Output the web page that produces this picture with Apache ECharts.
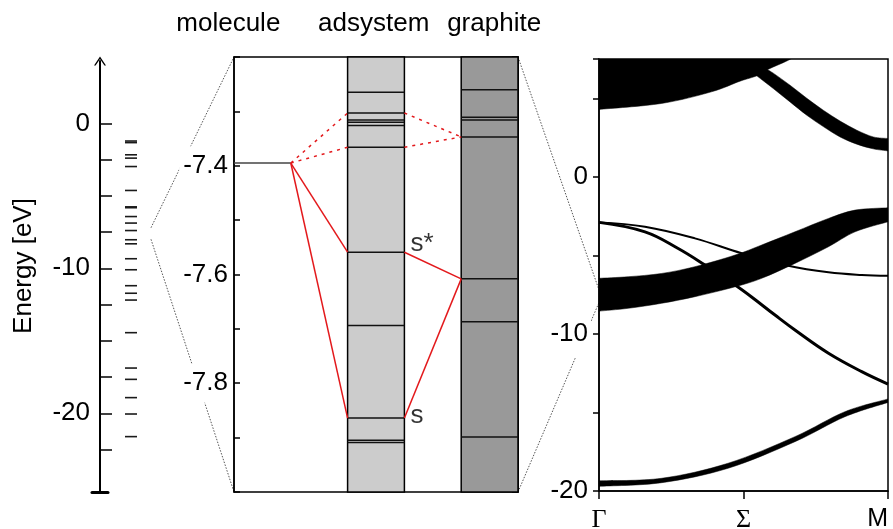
<!DOCTYPE html>
<html><head><meta charset="utf-8">
<script src="https://cdn.jsdelivr.net/npm/echarts@6/dist/echarts.min.js"></script>
<style>html,body{margin:0;padding:0;background:#fff}#c{width:893px;height:529px}</style>
</head><body><div id="c"></div>
<script>
// ---------------- data ----------------
// left panel: full molecular spectrum (eV)
const energyTicks = [0, -2.5, -5, -7.5, -10, -12.5, -15, -17.5, -20, -22.5];
const energyTickLabels = [0, -10, -20];
const moleculeSpectrum = [-1.22, -1.33, -2.17, -2.40, -2.98, -4.63, -5.76, -5.82, -6.43, -6.88, -7.395,
  -8.03, -8.31, -9.34, -10.10, -11.20, -11.72, -12.19, -14.44, -16.88, -17.66, -18.92, -20.05, -21.61];

// middle panel: zoomed level diagram
const zoomRange = [-8.0, -7.2];
const zoomTickLabels = [-7.4, -7.6, -7.8];
const columnNames = ['molecule', 'adsystem', 'graphite'];
const moleculeLevels = [-7.395];
const adsystemLevels = [-7.265, -7.303, -7.316, -7.320, -7.326, -7.366, -7.559, -7.694, -7.864, -7.905, -7.909];
const graphiteLevels = [-7.260, -7.311, -7.316, -7.347, -7.608, -7.687, -7.899];
const molToAdsSolid = [[-7.395, -7.559], [-7.395, -7.864]];
const molToAdsDotted = [[-7.395, -7.303], [-7.395, -7.366]];
const adsToGraSolid = [[-7.559, -7.608], [-7.864, -7.608]];
const adsToGraDotted = [[-7.303, -7.347], [-7.366, -7.347]];
const stateNames = ['s*', 's'];
const stateEnergies = [-7.559, -7.864];

// right panel: band structure (fat bands given by lower / upper edge)
const kPoints = [0, 0.5, 1];
const kLabels = ['Γ', 'Σ', 'M'];
const bandTickLabels = [0, -10, -20];
const bandA_k  = [0, 0.216, 0.389, 0.488, 0.546, 0.586, 0.655, 0.72];
const bandA_lo = [4.29, 4.67, 5.41, 6.09, 6.43, 6.85, 7.42, 8.1];
const bandA_hi = [12, 12, 12, 12, 12, 12, 12, 12];
const bandB_k  = [0.5, 0.546, 0.603, 0.661, 0.719, 0.776, 0.834, 0.892, 0.949, 1];
const bandB_lo = [7.08, 6.43, 5.62, 4.77, 3.92, 3.2, 2.54, 2.08, 1.78, 1.65];
const bandB_hi = [8.5, 7.3, 6.6, 5.83, 5.0, 4.24, 3.55, 2.97, 2.54, 2.44];
const bandC_k  = [0, 0.101, 0.217, 0.332, 0.471, 0.563, 0.678, 0.794, 0.886, 1];
const bandC_lo = [-8.55, -8.37, -8.05, -7.63, -7.0, -6.46, -5.51, -4.45, -3.50, -2.86];
const bandC_hi = [-6.46, -6.36, -6.15, -5.72, -4.98, -4.34, -3.50, -2.65, -2.12, -1.97];
const bandF_k  = [0, 0.217, 0.447, 0.678, 0.851, 1];
const bandF_lo = [-19.7, -19.47, -18.55, -16.86, -15.27, -14.36];
const bandF_hi = [-19.35, -19.19, -18.23, -16.54, -14.95, -14.14];
const lineD_k = [0, 0.159, 0.332, 0.494, 0.655, 0.794, 0.909, 1];
const lineD_e = [-2.90, -3.18, -3.92, -4.87, -5.66, -6.08, -6.25, -6.30];
const lineE_k = [0, 0.159, 0.274, 0.367, 0.471, 0.528, 0.609, 0.678, 0.794, 0.909, 1];
const lineE_e = [-2.90, -3.50, -4.56, -5.62, -6.89, -7.65, -8.80, -9.75, -11.23, -12.40, -13.19];

// ---------------- layout / style ----------------
const FONT = 'Liberation Sans';
const FS = 26;
const RED = '#e3191c';
const colX = [[0, 1], [2, 3], [4, 5]];   // column spans in the middle panel
const colFill = [null, '#cccccc', '#999999'];
const headerX = [-0.1, 2.46, 4.58];      // header centres in middle-panel units
const near = (a, b) => Math.abs(a - b) < 1e-6;

const chart = echarts.init(document.getElementById('c'));

// smooth (Catmull-Rom) outline through pixel points, as bezier path segments
function spline(p) {
  let s = '';
  for (let i = 0; i < p.length - 1; i++) {
    const p0 = p[i - 1] || p[i], p1 = p[i], p2 = p[i + 1], p3 = p[i + 2] || p[i + 1];
    const c1 = [p1[0] + (p2[0] - p0[0]) / 6, p1[1] + (p2[1] - p0[1]) / 6];
    const c2 = [p2[0] - (p3[0] - p1[0]) / 6, p2[1] - (p3[1] - p1[1]) / 6];
    s += ' C' + c1[0] + ',' + c1[1] + ' ' + c2[0] + ',' + c2[1] + ' ' + p2[0] + ',' + p2[1];
  }
  return s;
}
function bandSeries(k, lo, hi) {
  return {type: 'custom', xAxisIndex: 3, yAxisIndex: 4, silent: true, clip: true,
    data: k.map((x, i) => [x, lo[i], hi[i]]),
    encode: {x: 0, y: [1, 2]},
    renderItem: (params, api) => {
      if (params.dataIndex !== 0) return null;
      const up = k.map((x, i) => api.coord([x, hi[i]]));
      const dn = k.map((x, i) => api.coord([x, lo[i]])).reverse();
      const d = 'M' + up[0][0] + ',' + up[0][1] + spline(up) +
        ' L' + dn[0][0] + ',' + dn[0][1] + spline(dn) + ' Z';
      return {type: 'path', shape: {pathData: d}, style: {fill: '#000', stroke: '#000', lineWidth: 0.5}};
    }};
}
function lineSeries(k, e, w) {
  return {type: 'line', xAxisIndex: 3, yAxisIndex: 4, smooth: 0.4, symbol: 'none', silent: true,
    data: k.map((x, i) => [x, e[i]]), lineStyle: {width: w, color: '#000'}};
}
function linkSeries(pairs, x0, x1, dotted) {
  return pairs.map(p => ({type: 'line', xAxisIndex: 2, yAxisIndex: 2, symbol: 'none', silent: true,
    data: [[x0, p[0]], [x1, p[1]]],
    lineStyle: {color: RED, width: 1.5, type: dotted ? [3, 5] : 'solid'}}));
}

const levelItems = [];
moleculeLevels.forEach(e => levelItems.push([0, e]));
adsystemLevels.forEach(e => levelItems.push([1, e]));
graphiteLevels.forEach(e => levelItems.push([2, e]));

const arrowPath = 'path://M6,0 L12,9 L10.4,9 L6,2.4 L1.6,9 L0,9 Z';
const labelStyle = {fontFamily: FONT, fontSize: FS, color: '#000'};

const option = {
  animation: false,
  backgroundColor: '#fff',
  grid: [
    {left: 92, width: 16, top: 61, bottom: 37, outerBoundsMode: 'none'},
    {left: 125, width: 12, top: 61, bottom: 37, outerBoundsMode: 'none'},
    {left: 234, width: 284, top: 57, bottom: 37, show: true, borderColor: '#000', borderWidth: 1.5, outerBoundsMode: 'none'},
    {left: 599, width: 289, top: 59, bottom: 38, show: true, borderColor: '#000', borderWidth: 1.5, outerBoundsMode: 'none'}
  ],
  xAxis: [
    {gridIndex: 0, type: 'value', min: -1, max: 1, axisLine: {onZero: false, lineStyle: {color: '#000', width: 3}},
      axisTick: {show: false}, axisLabel: {show: false}, splitLine: {show: false}},
    {gridIndex: 1, type: 'value', min: 0, max: 1, show: false},
    {gridIndex: 2, type: 'value', min: 0, max: 5, show: false},
    {gridIndex: 3, type: 'value', min: 0, max: 1, interval: 0.5,
      axisLine: {onZero: false, lineStyle: {color: '#000', width: 1.5}},
      axisTick: {length: 8, lineStyle: {color: '#000', width: 1.5}},
      axisLabel: {margin: 16, alignMaxLabel: 'right', formatter: v => {
        const i = kPoints.findIndex(k => near(k, v));
        if (i < 0) return '';
        return (kLabels[i] === 'M' ? '{s|' : '{g|') + kLabels[i] + '}';
      }, rich: {
        g: {fontFamily: 'Liberation Serif', fontSize: 26, color: '#000'},
        s: {fontFamily: FONT, fontSize: 25, color: '#000'}
      }},
      splitLine: {show: false}}
  ],
  yAxis: [
    {gridIndex: 0, type: 'value', min: -25.43, max: 4.3, position: 'left',
      axisLine: {show: true, onZero: true, symbol: ['none', arrowPath], symbolSize: [12, 9],
        lineStyle: {color: '#000', width: 2}},
      axisTick: {show: true, inside: true, length: 12, customValues: energyTicks, lineStyle: {color: '#000', width: 1.5}},
      axisLabel: Object.assign({customValues: energyTickLabels, margin: 2}, labelStyle),
      splitLine: {show: false}},
    {gridIndex: 1, type: 'value', min: -25.43, max: 4.3, show: false},
    {gridIndex: 2, type: 'value', min: zoomRange[0], max: zoomRange[1], interval: 0.1, position: 'left',
      axisLine: {show: true, onZero: false, lineStyle: {color: '#000', width: 1.5}},
      axisTick: {inside: true, length: 6, lineStyle: {color: '#000', width: 1.5}},
      axisLabel: Object.assign({customValues: zoomTickLabels, margin: 3, formatter: v => v.toFixed(1),
        backgroundColor: '#fff', padding: [10, 3, 3, 4]}, labelStyle),
      splitLine: {show: false}},
    {gridIndex: 2, type: 'value', min: zoomRange[0], max: zoomRange[1], interval: 0.1, position: 'right',
      axisLine: {show: true, onZero: false, lineStyle: {color: '#000', width: 1.5}},
      axisTick: {inside: true, length: 6, lineStyle: {color: '#000', width: 1.5}},
      axisLabel: {show: false}, splitLine: {show: false}},
    {gridIndex: 3, type: 'value', min: -20, max: 7.5, interval: 5, position: 'left',
      axisLine: {show: true, onZero: false, lineStyle: {color: '#000', width: 1.5}},
      axisTick: {length: 6, lineStyle: {color: '#000', width: 1.5}},
      axisLabel: Object.assign({customValues: bandTickLabels, margin: 8,
        backgroundColor: '#fff', padding: [8, 3, 12, 3]}, labelStyle),
      splitLine: {show: false}}
  ],
  series: [
    // left: spectrum marks
    {type: 'custom', xAxisIndex: 1, yAxisIndex: 1, silent: true,
      data: moleculeSpectrum.map(e => [0, e]),
      renderItem: (p, api) => {
        const a = api.coord([0, api.value(1)]), b = api.coord([1, api.value(1)]);
        return {type: 'line', shape: {x1: a[0], y1: a[1], x2: b[0], y2: b[1]},
          style: {stroke: '#1a1a1a', lineWidth: 1.6}};
      }},
    // middle: shaded columns
    {type: 'custom', xAxisIndex: 2, yAxisIndex: 2, silent: true,
      data: [[1, -7.6], [2, -7.6]],
      renderItem: (p, api) => {
        const c = api.value(0);
        const a = api.coord([colX[c][0], zoomRange[1]]), b = api.coord([colX[c][1], zoomRange[0]]);
        return {type: 'rect', shape: {x: a[0], y: a[1], width: b[0] - a[0], height: b[1] - a[1]},
          style: {fill: colFill[c], stroke: '#000', lineWidth: 1.5}};
      }},
    // middle: levels
    {type: 'custom', xAxisIndex: 2, yAxisIndex: 2, silent: true,
      data: levelItems,
      renderItem: (p, api) => {
        const c = api.value(0), e = api.value(1);
        const a = api.coord([colX[c][0], e]), b = api.coord([colX[c][1], e]);
        return {type: 'line', shape: {x1: a[0], y1: a[1], x2: b[0], y2: b[1]},
          style: {stroke: c === 0 ? '#444' : '#111', lineWidth: 1.5}};
      }},
    ...linkSeries(molToAdsSolid, colX[0][1], colX[1][0], false),
    ...linkSeries(molToAdsDotted, colX[0][1], colX[1][0], true),
    ...linkSeries(adsToGraSolid, colX[1][1], colX[2][0], false),
    ...linkSeries(adsToGraDotted, colX[1][1], colX[2][0], true),
    {type: 'scatter', xAxisIndex: 2, yAxisIndex: 2, silent: true, symbolSize: 0,
      data: stateNames.map((n, i) => ({name: n, value: [colX[1][1], stateEnergies[i]],
        label: {offset: [0, n === 's*' ? -8 : -2]}})),
      label: Object.assign({show: true, position: 'right', distance: 6, formatter: p => p.name}, labelStyle)},
    // right: band structure
    bandSeries(bandA_k, bandA_lo, bandA_hi),
    bandSeries(bandB_k, bandB_lo, bandB_hi),
    bandSeries(bandC_k, bandC_lo, bandC_hi),
    bandSeries(bandF_k, bandF_lo, bandF_hi),
    lineSeries(lineD_k, lineD_e, 2),
    lineSeries(lineE_k, lineE_e, 3)
  ]
};
chart.setOption(option);

// connectors, headers and axis title placed through the axes' own scales
const yL = v => chart.convertToPixel({yAxisIndex: 0}, v);
const pM = (x, y) => chart.convertToPixel({xAxisIndex: 2, yAxisIndex: 2}, [x, y]);
const pB = (x, y) => chart.convertToPixel({xAxisIndex: 3, yAxisIndex: 4}, [x, y]);
const axL = chart.convertToPixel({xAxisIndex: 0}, 0);
const dot = {stroke: '#555', lineWidth: 1, lineDash: [1.5, 1.5]};
const conn = [
  [[axL + 51, yL(zoomRange[1])], pM(0, zoomRange[1])],
  [[axL + 51, yL(zoomRange[0])], pM(0, zoomRange[0])],
  [pM(5, zoomRange[1]), pB(0, zoomRange[1])],
  [pM(5, zoomRange[0]), pB(0, zoomRange[0])]
];
const graphic = conn.map(c => ({type: 'line', z: -10, silent: true,
  shape: {x1: c[0][0], y1: c[0][1], x2: c[1][0], y2: c[1][1]}, style: dot}));
columnNames.forEach((n, i) => {
  graphic.push({type: 'text', x: pM(headerX[i], 0)[0], y: 24, silent: true,
    style: {text: n, font: FS + 'px "' + FONT + '"', fill: '#000', align: 'center', verticalAlign: 'middle'}});
});
graphic.push({type: 'text', x: 24, y: 266, rotation: Math.PI / 2, silent: true,
  style: {text: 'Energy [eV]', font: FS + 'px "' + FONT + '"', fill: '#000', align: 'center', verticalAlign: 'middle'}});
chart.setOption({graphic: graphic});
</script>
</body></html>
